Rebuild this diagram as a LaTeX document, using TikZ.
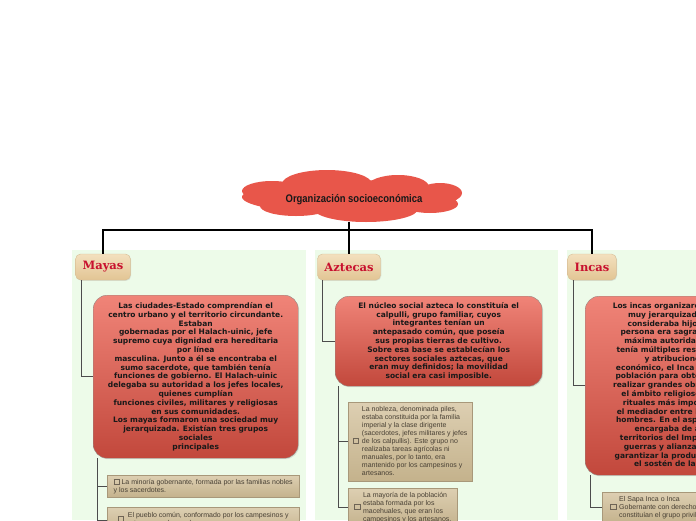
\documentclass[tikz,border=0pt]{standalone}
\usepackage{fontspec}
\usepackage{graphicx}
\setmainfont{DejaVu Sans}
\newfontfamily\boxfont{DejaVu Sans}
\newfontfamily\notefont{Liberation Sans}
\newfontfamily\headfont{DejaVu Serif}
\newfontfamily\titlefont{Liberation Sans}
\definecolor{panelgreen}{RGB}{237, 251, 233}
\definecolor{cloudred}{RGB}{232, 86, 74}
\definecolor{headtop}{RGB}{243, 224, 190}
\definecolor{headbot}{RGB}{226, 197, 148}
\definecolor{headedge}{RGB}{215, 190, 150}
\definecolor{headred}{RGB}{200, 16, 46}
\definecolor{redtop}{RGB}{240, 132, 120}
\definecolor{redbot}{RGB}{194, 72, 60}
\definecolor{rededge}{RGB}{150, 135, 130}
\definecolor{tantop}{RGB}{221, 207, 178}
\definecolor{tanbot}{RGB}{196, 178, 140}
\definecolor{tanedge}{RGB}{168, 152, 122}
\definecolor{notegray}{RGB}{72, 64, 52}
\definecolor{chkgray}{RGB}{110, 100, 85}
\usetikzlibrary{positioning, shadows}
\newcommand{\bodytext}{\boxfont\bfseries\fontsize{7.5}{8.8}\selectfont}
\newcommand{\notetext}{\notefont\fontsize{7}{8}\selectfont}
\newcommand{\chkbox}{{\color{chkgray}\fboxsep=0pt\fboxrule=0.5pt\fbox{\rule{0pt}{5pt}\hspace{5pt}}}}

\begin{document}
\begin{tikzpicture}[x=1pt, y=-1pt,
    tree/.style={draw=black, line width=1.2pt},
    link/.style={draw=black!70, line width=0.7pt},
    headbox/.style={rounded corners=5pt, top color=headtop, bottom color=headbot, draw=headedge,
        text=headred, font={\headfont\bfseries\fontsize{11.5}{13}\selectfont},
        minimum height=26pt, inner xsep=7pt,
        drop shadow={opacity=0.2, shadow xshift=0.8pt, shadow yshift=-0.8pt}},
    redbox/.style={draw=rededge, rounded corners=14pt, top color=redtop, bottom color=redbot,
        align=center, font=\bodytext, text=black!90, anchor=north west, inner xsep=2pt,
        drop shadow={opacity=0.2, shadow xshift=1pt, shadow yshift=-1pt}},
    notebox/.style={draw=tanedge, top color=tantop, bottom color=tanbot, font=\notetext,
        text=notegray, anchor=north west, inner xsep=4pt,
        drop shadow={opacity=0.2, shadow xshift=0.8pt, shadow yshift=-0.8pt}}]
    \useasboundingbox (0,0) rectangle (696,520);
    \clip (0,0) rectangle (696,520);

    % Panels
    \fill[panelgreen] (72,250) rectangle (306,520);
    \fill[panelgreen] (315,250) rectangle (558,520);
    \fill[panelgreen] (567,250) rectangle (696,520);

    % Nodes
    \node[headbox] (mayas) at (103,267) {Mayas};
    \node[headbox] (aztecas) at (349,267) {Aztecas};
    \node[headbox] (incas) at (592,267) {Incas};

    \coordinate (cloudbot) at (349,222);
    \draw[tree] (cloudbot) -- ++(0,8) coordinate (bus) -| (mayas.north);
    \draw[tree] (bus) -| (incas.north);
    \draw[tree] (bus) -- (aztecas.north);

    % Cloud
    \fill[cloudred] (350,197) ellipse [x radius=108, y radius=17];
    \fill[cloudred] (327,184) ellipse [x radius=45, y radius=14];
    \fill[cloudred] (398,187) ellipse [x radius=31, y radius=12];
    \fill[cloudred] (272,191) ellipse [x radius=30, y radius=10];
    \fill[cloudred] (366,209) ellipse [x radius=52, y radius=13];
    \fill[cloudred] (296,206) ellipse [x radius=36, y radius=10];
    \fill[cloudred] (430,204) ellipse [x radius=28, y radius=9];
    \fill[cloudred] (440,193) ellipse [x radius=22, y radius=10];
    \node[font={\titlefont\bfseries\fontsize{11}{13}\selectfont}, text=black!90] (title) at (354,200)
        {\scalebox{0.86}[1]{Organización socioeconómica}};

    \node[redbox, minimum width=205pt, minimum height=163pt] (mayasbox) at (93,295) {
        Las ciudades-Estado comprendían el\\
        centro urbano y el territorio circundante.\\
        Estaban\\
        gobernadas por el Halach-uinic, jefe\\
        supremo cuya dignidad era hereditaria\\
        por línea\\
        masculina. Junto a él se encontraba el\\
        sumo sacerdote, que también tenía\\
        funciones de gobierno. El Halach-uinic\\
        delegaba su autoridad a los jefes locales,\\
        quienes cumplían\\
        funciones civiles, militares y religiosas\\
        en sus comunidades.\\
        Los mayas formaron una sociedad muy\\
        jerarquizada. Existían tres grupos\\
        sociales\\
        principales
    };

    \node[redbox, minimum width=207pt, minimum height=90pt] (aztecasbox) at (335,296) {
        El núcleo social azteca lo constituía el\\
        calpulli, grupo familiar, cuyos\\
        integrantes tenían un\\
        antepasado común, que poseía\\
        sus propias tierras de cultivo.\\
        Sobre esa base se establecían los\\
        sectores sociales aztecas, que\\
        eran muy definidos; la movilidad\\
        social era casi imposible.
    };

    \node[redbox, minimum width=206pt, minimum height=179pt] (incasbox) at (585,296) {
        Los incas organizaron una sociedad\\
        muy jerarquizada. El Inca se\\
        consideraba hijo del Sol y su\\
        persona era sagrada, por ello la\\
        máxima autoridad del Imperio\\
        tenía múltiples responsabilidades\\
        y atribuciones. En lo\\
        económico, el Inca movilizaba a la\\
        población para obtener recursos y\\
        realizar grandes obras públicas. En\\
        el ámbito religioso, presidía los\\
        rituales más importantes y era\\
        el mediador entre los dioses y los\\
        hombres. En el aspecto militar, se\\
        encargaba de ampliar los\\
        territorios del Imperio mediante\\
        guerras y alianzas, además de\\
        garantizar la producción necesaria\\
        el sostén de la población.
    };

    \node[notebox, minimum width=192pt, minimum height=22pt, align=left] (mayas1) at (107,475)
        {\chkbox\ La minoría gobernante, formada por las familias nobles\\y los sacerdotes.};
    \node[notebox, minimum width=192pt, minimum height=26pt] (mayas2) at (107,507)
        {\chkbox\hspace{4pt}\begin{tabular}{@{}l@{}}El pueblo común, conformado por los campesinos y\\artesanos, y los esclavos.\end{tabular}};

    \node[notebox, minimum width=124pt, minimum height=78pt] (aztecas1) at (348,402)
        {\chkbox\hspace{3pt}\begin{tabular}{@{}l@{}}
        La nobleza, denominada piles,\\
        estaba constituida por la familia\\
        imperial y la clase dirigente\\
        (sacerdotes, jefes militares y jefes\\
        de los calpullis). Este grupo no\\
        realizaba tareas agrícolas ni\\
        manuales, por lo tanto, era\\
        mantenido por los campesinos y\\
        artesanos.\end{tabular}};
    \node[notebox, minimum width=109pt] (aztecas2) at (348,488)
        {\chkbox\hspace{3pt}\begin{tabular}{@{}l@{}}
        La mayoría de la población\\
        estaba formada por los\\
        macehuales, que eran los\\
        campesinos y los artesanos.\end{tabular}};

    \node[notebox, minimum width=130pt] (incas1) at (602,492)
        {\chkbox\hspace{3pt}\begin{tabular}{@{}l@{}}
        El Sapa Inca o Inca\\
        Gobernante con derecho divino, y\\
        constituían el grupo privilegiado.\end{tabular}};

    % Links
    \draw[link] ([xshift=6pt]mayas.south west) |- (mayasbox.west);
    \draw[link] ([xshift=4pt]mayasbox.south west) |- (mayas1.west);
    \draw[link] ([xshift=4pt]mayasbox.south west) |- (mayas2.west);
    \draw[link] ([xshift=5pt]aztecas.south west) |- (aztecasbox.west);
    \draw[link] ([xshift=3pt]aztecasbox.south west) |- (aztecas1.west);
    \draw[link] ([xshift=3pt]aztecasbox.south west) |- (aztecas2.west);
    \draw[link] ([xshift=6pt]incas.south west) |- (incasbox.west);
    \draw[link] ([xshift=5pt]incasbox.south west) |- (incas1.west);
\end{tikzpicture}
\end{document}
